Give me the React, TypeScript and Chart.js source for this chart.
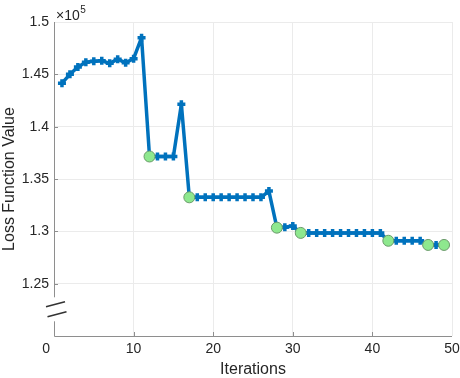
import React, { useEffect, useRef } from 'react';
import { Chart, registerables } from 'chart.js';

Chart.register(...registerables);

// ---------- data ----------
const iterations = [
  1, 2, 3, 4, 5, 6, 7, 8, 9, 10,
  11, 12, 13, 14, 15, 16, 17, 18, 19, 20,
  21, 22, 23, 24, 25, 26, 27, 28, 29, 30,
  31, 32, 33, 34, 35, 36, 37, 38, 39, 40,
  41, 42, 43, 44, 45, 46, 47, 48, 49,
];
const lossValues = [
  144160, 145000, 145700, 146150, 146250, 146300, 146050, 146450, 146100, 146500,
  148500, 137150, 137150, 137150, 137150, 142150, 133250, 133250, 133250, 133250,
  133250, 133250, 133250, 133250, 133250, 133250, 133850, 130350, 130400, 130500,
  129850, 129850, 129850, 129850, 129850, 129850, 129850, 129850, 129850, 129850,
  129850, 129100, 129100, 129100, 129100, 129100, 128700, 128700, 128700,
];
const improvementIterations = [12, 17, 28, 31, 42, 47, 49];
const xTickValues = [0, 10, 20, 30, 40, 50];
const xTickLabels = ['0\u2007\u2007', '10', '20', '30', '40', '50'];
const yTickValues = [120000, 125000, 130000, 135000, 140000, 145000, 150000];
const yTickLabels = ['', '1.25', '1.3', '1.35', '1.4', '1.45', '1.5'];
const xTitle = 'Iterations';
const yTitle = 'Loss Function Value';

// ---------- styles ----------
const FONT = "'Liberation Sans', Arial, Helvetica, sans-serif";
const TEXT = '#262626';
const AXIS = '#8e8e8e';
const GRID = '#ebebeb';
const BLUE = '#0072BD';

const decorPlugin = {
  id: 'decor',
  afterDraw(chart: any) {
    const { ctx, chartArea } = chart;
    const { left, right, top, bottom } = chartArea;
    const ys = chart.scales.y;
    const xs = chart.scales.x;
    const breakY = ys.getPixelForValue(122550);
    const gapHalf = 12;
    ctx.save();
    // axes lines
    ctx.strokeStyle = AXIS;
    ctx.lineWidth = 1;
    ctx.beginPath();
    ctx.moveTo(left + 0.5, top);
    ctx.lineTo(left + 0.5, breakY - gapHalf);
    ctx.moveTo(left + 0.5, breakY + gapHalf);
    ctx.lineTo(left + 0.5, bottom + 0.5);
    ctx.lineTo(right, bottom + 0.5);
    ctx.stroke();
    // inward ticks
    ctx.beginPath();
    xTickValues.forEach((v) => {
      const px = Math.round(xs.getPixelForValue(v)) + 0.5;
      if (v === 0 || v === 50) return;
      ctx.moveTo(px, bottom);
      ctx.lineTo(px, bottom - 4);
    });
    yTickValues.forEach((v) => {
      if (v === 120000 || v === 150000) return;
      const py = Math.round(ys.getPixelForValue(v)) + 0.5;
      ctx.moveTo(left, py);
      ctx.lineTo(left + 4, py);
    });
    ctx.stroke();
    // break marks
    ctx.strokeStyle = '#333333';
    ctx.lineWidth = 1.6;
    ctx.beginPath();
    ctx.moveTo(left - 8, breakY - 2.5);
    ctx.lineTo(left + 11, breakY - 7.5);
    ctx.moveTo(left - 6.5, breakY + 7.5);
    ctx.lineTo(left + 12.5, breakY + 2.5);
    ctx.stroke();
    // exponent label
    ctx.fillStyle = TEXT;
    ctx.textBaseline = 'alphabetic';
    ctx.textAlign = 'left';
    ctx.font = `14px ${FONT}`;
    const base = '\u00D710';
    ctx.fillText(base, left + 2, top - 2);
    const w = ctx.measureText(base).width;
    ctx.font = `10px ${FONT}`;
    ctx.fillText('5', left + 2 + w + 0.5, top - 9.5);
    ctx.restore();
  },
};

export default function App() {
  const canvasRef = useRef<HTMLCanvasElement | null>(null);

  useEffect(() => {
    const canvas = canvasRef.current;
    if (!canvas) return;
    const lineData = iterations.map((x, i) => ({ x, y: lossValues[i] }));
    const markData = improvementIterations.map((it) => ({
      x: it,
      y: lossValues[iterations.indexOf(it)],
    }));

    const chart = new Chart(canvas, {
      type: 'line',
      data: {
        datasets: [
          {
            label: 'improved',
            data: markData,
            showLine: false,
            pointStyle: 'circle',
            pointRadius: 5.5,
            pointBackgroundColor: '#8ee88e',
            pointBorderColor: '#6a9a6a',
            pointBorderWidth: 1,
            order: 0,
          },
          {
            label: 'loss',
            data: lineData,
            borderColor: BLUE,
            borderWidth: 3.5,
            borderJoinStyle: 'round',
            borderCapStyle: 'round',
            tension: 0,
            pointStyle: 'cross',
            pointRadius: 4,
            pointBorderWidth: 3.5,
            pointBorderColor: BLUE,
            pointBackgroundColor: BLUE,
            order: 1,
          },
        ],
      },
      options: {
        responsive: false,
        animation: false,
        events: [],
        layout: { padding: { left: 0, top: 22, right: 8, bottom: 0 } },
        plugins: { legend: { display: false }, tooltip: { enabled: false } },
        scales: {
          x: {
            type: 'linear',
            min: 0,
            max: 50,
            afterBuildTicks: (s: any) => {
              s.ticks = xTickValues.map((v) => ({ value: v }));
            },
            afterFit: (s: any) => {
              s.height = 42;
              s.paddingLeft = 0;
              s.paddingRight = 0;
            },
            border: { display: false },
            grid: {
              drawTicks: false,
              color: (c: any) => (c.tick && c.tick.value === 0 ? 'rgba(0,0,0,0)' : GRID),
            },
            ticks: {
              color: TEXT,
              font: { family: FONT, size: 14 },
              padding: 5,
              maxRotation: 0,
              callback: (v: any) => {
                const i = xTickValues.indexOf(Number(v));
                return i >= 0 ? xTickLabels[i] : '';
              },
            },
            title: {
              display: true,
              text: xTitle,
              color: TEXT,
              font: { family: FONT, size: 16 },
              padding: { top: 0, bottom: -1 },
            },
          },
          y: {
            type: 'linear',
            min: 120000,
            max: 150000,
            afterBuildTicks: (s: any) => {
              s.ticks = yTickValues.map((v) => ({ value: v }));
            },
            afterFit: (s: any) => {
              s.width = 54;
              s.paddingTop = 0;
              s.paddingBottom = 0;
            },
            border: { display: false },
            grid: {
              drawTicks: false,
              color: (c: any) => (c.tick && c.tick.value === 120000 ? 'rgba(0,0,0,0)' : GRID),
            },
            ticks: {
              color: TEXT,
              font: { family: FONT, size: 14 },
              padding: 5,
              callback: (v: any) => {
                const i = yTickValues.indexOf(Number(v));
                return i >= 0 ? yTickLabels[i] : '';
              },
            },
            title: {
              display: true,
              text: yTitle,
              color: TEXT,
              font: { family: FONT, size: 16 },
              padding: { top: 0, bottom: 0 },
            },
          },
        },
      },
      plugins: [decorPlugin],
    });
    return () => chart.destroy();
  }, []);

  return (
    <div style={{ position: 'fixed', left: 0, top: 0, width: 460, height: 378, background: '#fff' }}>
      <canvas ref={canvasRef} width={460} height={378} style={{ width: 460, height: 378, display: 'block' }} />
    </div>
  );
}
